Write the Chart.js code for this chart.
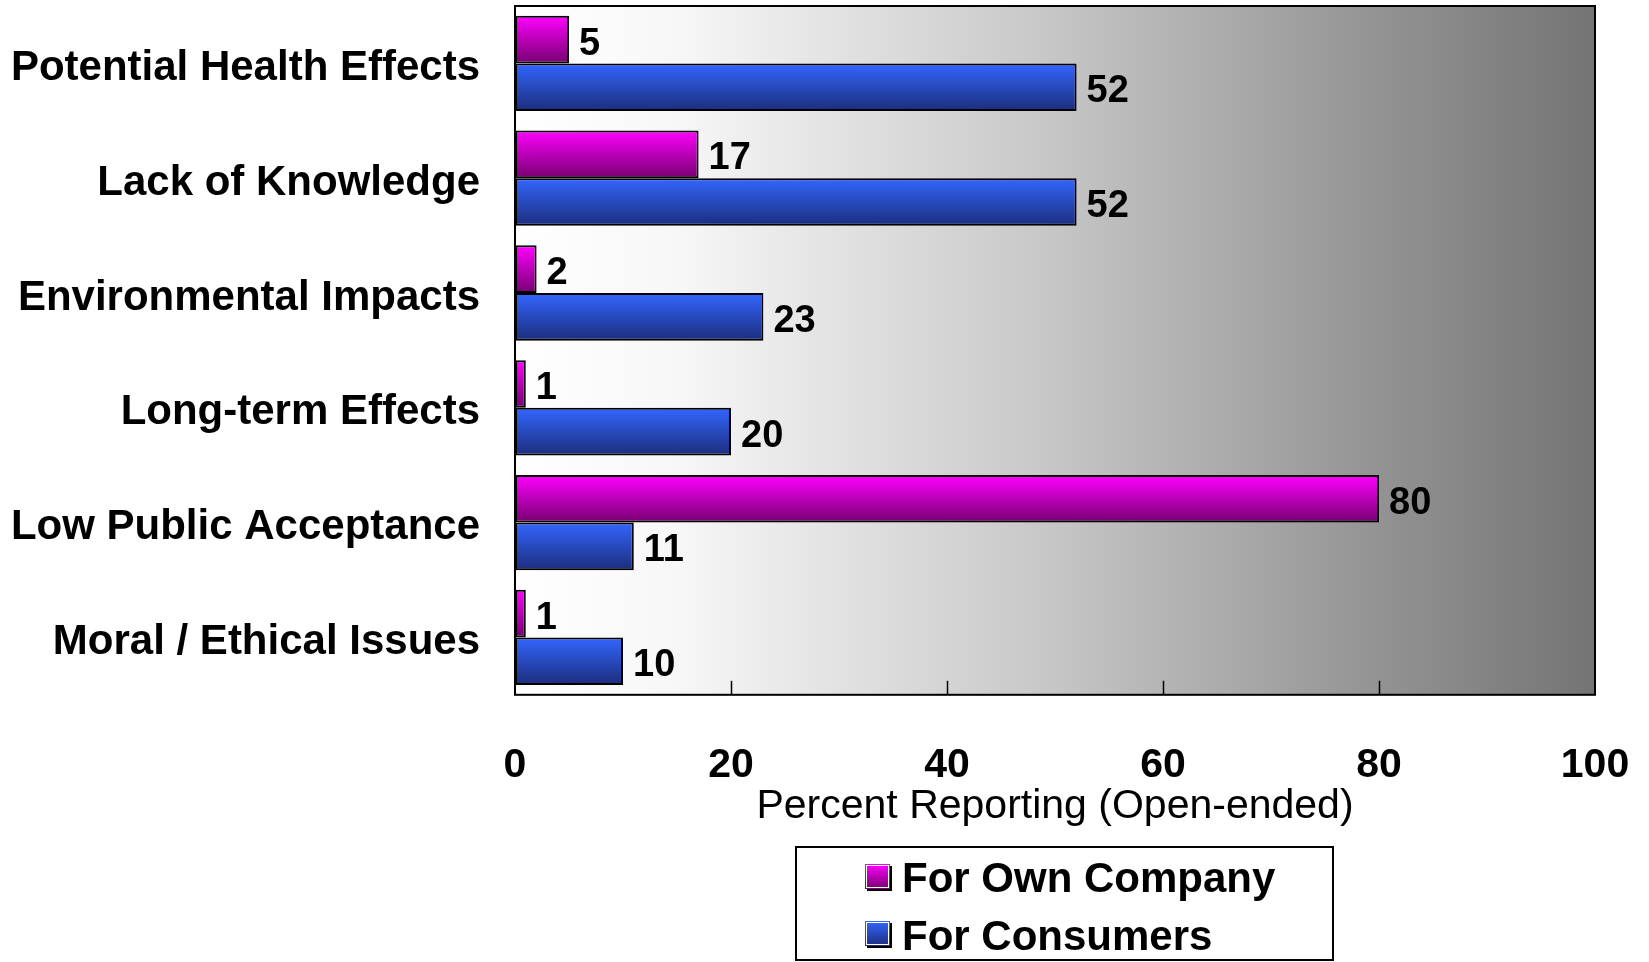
<!DOCTYPE html>
<html>
<head>
<meta charset="utf-8">
<script src="https://cdn.jsdelivr.net/npm/chart.js@4/dist/chart.umd.min.js"></script>
<style>
  html, body { margin: 0; padding: 0; background: #ffffff; }
  #wrap { width: 1649px; height: 962px; position: relative; }
</style>
</head>
<body>
<div id="wrap"><canvas id="chart"></canvas></div>
<script>
const FONT = '"Liberation Sans", Arial, Helvetica, sans-serif';

// data
const categories = [
  "Potential Health Effects",
  "Lack of Knowledge",
  "Environmental Impacts",
  "Long-term Effects",
  "Low Public Acceptance",
  "Moral / Ethical Issues"
];
const ownCompany = [5, 17, 2, 1, 80, 1];
const consumers = [52, 52, 23, 20, 11, 10];
const seriesNames = ["For Own Company", "For Consumers"];
const xTicks = [0, 20, 40, 60, 80, 100];
const axisTitle = "Percent Reporting (Open-ended)";

// top / bottom colours of each bar gradient
const barShades = [
  ["#ff00ff", "#760070"],
  ["#3366ff", "#1c2d7c"]
];

// plot background, horizontal fade
const backdrop = {
  id: "backdrop",
  beforeDatasetsDraw(chart) {
    const { ctx, chartArea: a } = chart;
    const g = ctx.createLinearGradient(a.left, 0, a.right, 0);
    g.addColorStop(0, "#ffffff");
    g.addColorStop(0.15, "#f7f7f7");
    g.addColorStop(0.5, "#c6c6c6");
    g.addColorStop(0.8, "#939393");
    g.addColorStop(1, "#747474");
    ctx.save();
    ctx.fillStyle = g;
    ctx.fillRect(a.left, a.top, a.right - a.left, a.bottom - a.top);
    ctx.restore();

    // give every bar its own vertical gradient
    chart.data.datasets.forEach((ds, di) => {
      const meta = chart.getDatasetMeta(di);
      meta.data.forEach(bar => {
        const top = bar.y - bar.height / 2;
        const bg = ctx.createLinearGradient(0, top, 0, top + bar.height);
        bg.addColorStop(0, barShades[di][0]);
        bg.addColorStop(1, barShades[di][1]);
        bar.options = Object.assign({}, bar.options, { backgroundColor: bg });
      });
    });
  }
};

// frame, inward ticks and value labels
const frameAndLabels = {
  id: "frameAndLabels",
  afterDatasetsDraw(chart) {
    const { ctx, chartArea: a } = chart;
    const xs = chart.scales.x;
    ctx.save();
    ctx.strokeStyle = "#000";
    ctx.lineWidth = 2;
    ctx.strokeRect(a.left, a.top, a.right - a.left, a.bottom - a.top);

    ctx.lineWidth = 1.5;
    xTicks.slice(1, -1).forEach(v => {
      const px = Math.round(xs.getPixelForValue(v)) + 0.5;
      ctx.beginPath();
      ctx.moveTo(px, a.bottom);
      ctx.lineTo(px, a.bottom - 14);
      ctx.stroke();
    });

    ctx.fillStyle = "#000";
    ctx.font = "bold 38px " + FONT;
    ctx.textAlign = "left";
    ctx.textBaseline = "alphabetic";
    chart.data.datasets.forEach((ds, di) => {
      chart.getDatasetMeta(di).data.forEach((bar, i) => {
        ctx.fillText(String(ds.data[i]), bar.x + 10, bar.y + 15);
      });
    });
    ctx.restore();
  }
};

// boxed legend under the axis title
const boxedLegend = {
  id: "boxedLegend",
  afterDraw(chart) {
    const { ctx } = chart;
    const left = 796, top = 847, w = 537, h = 113;
    ctx.save();
    ctx.fillStyle = "#ffffff";
    ctx.fillRect(left, top, w, h);
    ctx.strokeStyle = "#000";
    ctx.lineWidth = 2;
    ctx.strokeRect(left, top, w, h);

    ctx.font = "bold 42px " + FONT;
    ctx.textAlign = "left";
    ctx.textBaseline = "alphabetic";
    seriesNames.forEach((name, i) => {
      const sy = 864 + i * 57;
      const sx = 865;
      const size = 25;
      ctx.fillStyle = "#000";
      ctx.fillRect(sx + 2, sy + 2, size, size);
      const g = ctx.createLinearGradient(0, sy, 0, sy + size);
      g.addColorStop(0, barShades[i][0]);
      g.addColorStop(1, barShades[i][1]);
      ctx.fillStyle = g;
      ctx.fillRect(sx, sy, size, size);
      ctx.strokeStyle = "#ffffff";
      ctx.lineWidth = 1;
      ctx.strokeRect(sx + 1.5, sy + 1.5, size - 3, size - 3);
      ctx.fillStyle = "#000";
      ctx.fillText(name, 902, 892 + i * 58);
    });
    ctx.restore();
  }
};

const barStyle = {
  categoryPercentage: 0.83,
  barPercentage: 1.0,
  borderColor: "#000000",
  borderWidth: 2,
  borderSkipped: false
};

new Chart(document.getElementById("chart"), {
  type: "bar",
  data: {
    labels: categories,
    datasets: [
      Object.assign({ label: seriesNames[0], data: ownCompany, backgroundColor: barShades[0][0] }, barStyle),
      Object.assign({ label: seriesNames[1], data: consumers, backgroundColor: barShades[1][0] }, barStyle)
    ]
  },
  options: {
    indexAxis: "y",
    responsive: true,
    maintainAspectRatio: false,
    animation: false,
    events: [],
    layout: { padding: { top: 6, right: 54, bottom: 135, left: 0 } },
    plugins: {
      legend: { display: false },
      tooltip: { enabled: false },
      colors: { enabled: false }
    },
    scales: {
      x: {
        min: 0,
        max: 100,
        afterBuildTicks: s => { s.ticks = xTicks.map(v => ({ value: v })); },
        afterFit: s => { s.paddingLeft = 0; s.paddingRight = 0; },
        grid: { display: false, drawTicks: false },
        border: { display: false },
        ticks: {
          color: "#000",
          padding: 46,
          maxRotation: 0,
          font: { family: FONT, size: 41, weight: "bold", lineHeight: 1.2 }
        },
        title: {
          display: true,
          text: axisTitle,
          color: "#000",
          padding: { top: -50, bottom: 0 },
          font: { family: FONT, size: 41, weight: "normal", lineHeight: 1.0 }
        }
      },
      y: {
        afterFit: s => { s.width = 515; s.paddingTop = 0; s.paddingBottom = 0; },
        grid: { display: false, drawTicks: false },
        border: { display: false },
        ticks: {
          color: "#000",
          padding: 35,
          labelOffset: 5,
          font: { family: FONT, size: 42, weight: "bold" }
        }
      }
    }
  },
  plugins: [backdrop, frameAndLabels, boxedLegend]
});
</script>
</body>
</html>
